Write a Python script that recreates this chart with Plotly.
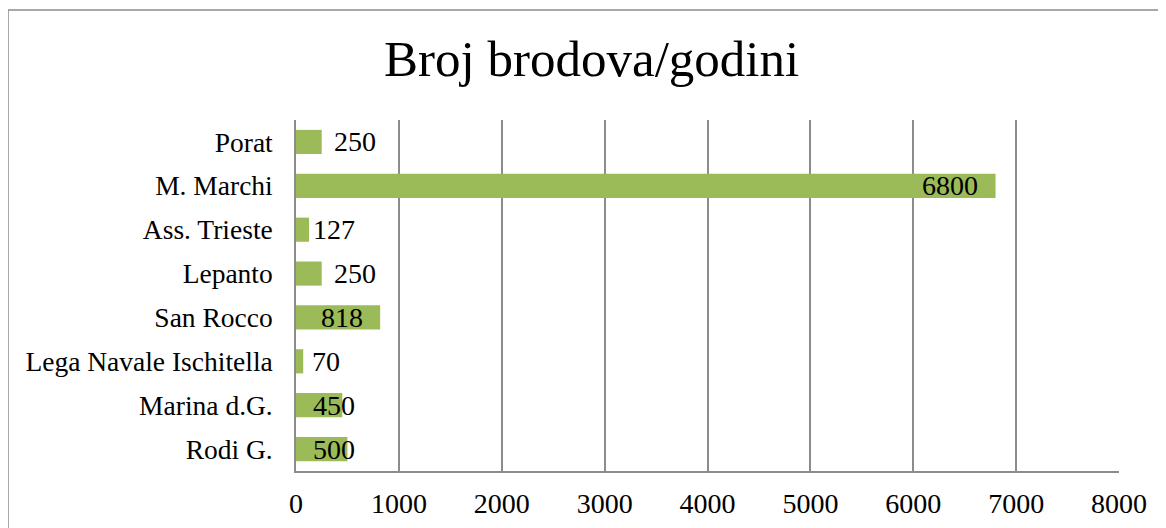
import plotly.graph_objects as go

categories = ["Porat", "M. Marchi", "Ass. Trieste", "Lepanto", "San Rocco",
              "Lega Navale Ischitella", "Marina d.G.", "Rodi G."]
values = [250, 6800, 127, 250, 818, 70, 450, 500]
label_shift = [33, -46, 25, 33, -38, 23, -8, -13]
x_ticks = [0, 1000, 2000, 3000, 4000, 5000, 6000, 7000, 8000]

FONT = "Liberation Serif"
GRID = "#8C8C8C"

# page body has an 8px default margin, so the figure is sized/offset for it
W, H = 1158, 520
ML, MT, MR, MB = 288, 112, 47, 57
PW, PH = W - ML - MR, H - MT - MB

fig = go.Figure(go.Bar(
    x=values, y=categories, orientation="h",
    marker=dict(color="#9BBB59", line=dict(width=0)),
    hoverinfo="x+y",
))

for v, c, s in zip(values, categories, label_shift):
    fig.add_annotation(x=v, y=c, text=str(v), showarrow=False,
                       xanchor="center", yanchor="middle", xshift=s,
                       font=dict(family=FONT, size=28, color="black"))

fig.update_layout(
    width=W, height=H,
    margin=dict(l=ML, r=MR, t=MT, b=MB, autoexpand=False),
    paper_bgcolor="white", plot_bgcolor="white",
    bargap=0.45,
    showlegend=False,
    title=dict(text="Broj brodova/godini", x=0.504, xref="container",
               xanchor="center", y=0.903, yref="container", yanchor="middle",
               font=dict(family=FONT, size=51, color="black")),
    font=dict(family=FONT, size=28, color="black"),
)
fig.update_xaxes(range=[0, 8000], tickvals=x_ticks, ticktext=[str(t) for t in x_ticks],
                 showgrid=True, gridcolor=GRID, gridwidth=1.5, automargin=False,
                 zeroline=False, showline=True, linecolor=GRID, linewidth=1.5,
                 ticks="", ticklabelstandoff=7,
                 tickfont=dict(family=FONT, size=28, color="black"))
fig.update_yaxes(categoryorder="array", categoryarray=categories[::-1],
                 showgrid=False, showline=True, linecolor=GRID, linewidth=1.5,
                 ticks="", ticklabelstandoff=16, automargin=False,
                 tickfont=dict(family=FONT, size=27.5, color="black"))

# outer chart border (extends past right/bottom edges as in the reference)
fig.add_shape(type="rect", xref="paper", yref="paper",
              x0=-ML / PW, x1=1 + (MR + 20) / PW,
              y0=-(MB + 20) / PH, y1=1 + (MT - 2) / PH,
              line=dict(color=GRID, width=1.5), fillcolor="rgba(0,0,0,0)",
              layer="below")

fig.write_html("out.html")
